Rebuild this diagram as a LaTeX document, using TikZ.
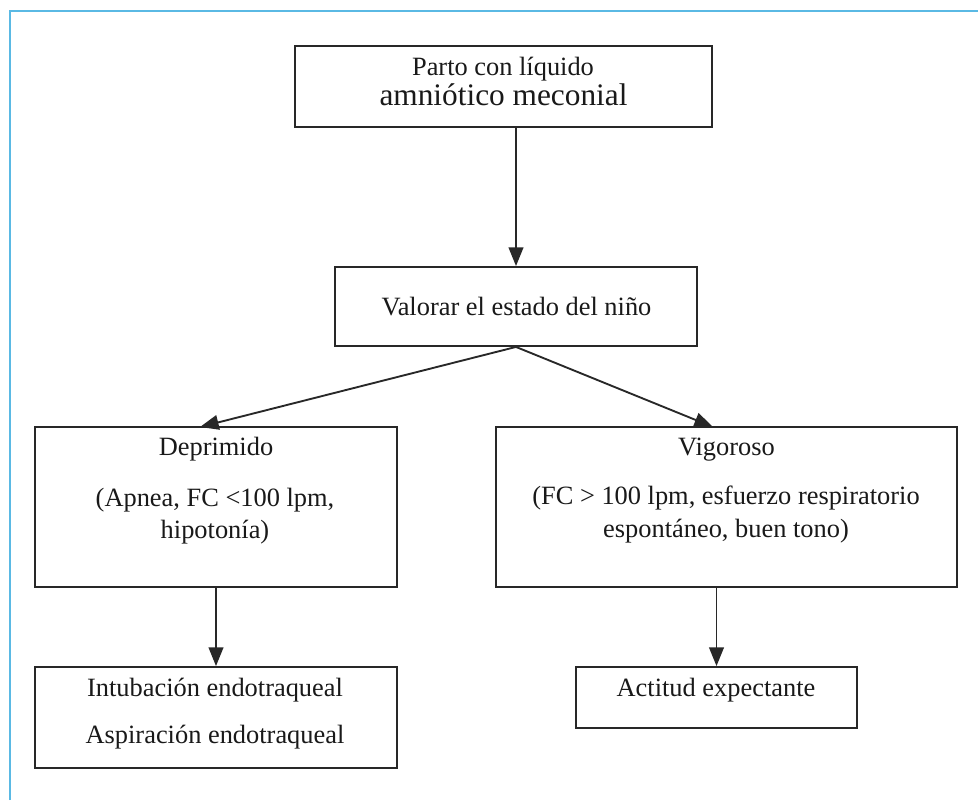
\documentclass[tikz,border=0pt]{standalone}
\usepackage{fontspec}
\setmainfont{Liberation Serif}
\usetikzlibrary{arrows.meta,calc}
\definecolor{framecol}{RGB}{90,185,228}
\definecolor{linecol}{RGB}{40,40,40}
\begin{document}
\begin{tikzpicture}[x=0.75pt,y=-0.75pt,
  box/.style={draw=linecol,line width=1.4pt,rectangle,inner sep=0pt},
  txt/.style={anchor=base,inner sep=0pt,text=black!90,font=\fontsize{19.8}{24}\selectfont},
  arr/.style={draw=linecol,line width=1.4pt,-{Triangle[length=14pt,width=11pt]}}]
\useasboundingbox (0,0) rectangle (978,800);
\fill[white] (0,0) rectangle (978,800);
% frame (top and left edges visible)
\draw[framecol,line width=1.8pt] (10,800) -- (10,11) -- (978,11);
% boxes
\node[box,minimum width=417*0.75pt,minimum height=81*0.75pt] (top) at (503.5,86.5) {};
\node[box,minimum width=362*0.75pt,minimum height=79*0.75pt] (val) at (516,306.5) {};
\node[box,minimum width=362*0.75pt,minimum height=160*0.75pt] (dep) at (216,507) {};
\node[box,minimum width=461*0.75pt,minimum height=160*0.75pt] (vig) at (726.5,507) {};
\node[box,minimum width=362*0.75pt,minimum height=101*0.75pt] (int) at (216,717.5) {};
\node[box,minimum width=281*0.75pt,minimum height=61*0.75pt] (act) at (716.5,697.5) {};
% texts
\node[txt] (t1) at (503,75) {Parto con líquido};
\node[txt,font=\fontsize{23.5}{28}\selectfont] (t2) at (503.5,105) {amniótico meconial};
\node[txt] (t3) at (516.5,315) {Valorar el estado del niño};
\node[txt] (t4) at (216,455) {Deprimido};
\node[txt] (t5) at (215,506) {(Apnea, FC <100 lpm,};
\node[txt] (t6) at (215,538) {hipotonía)};
\node[txt] (t7) at (726.5,455) {Vigoroso};
\node[txt] (t8) at (726,504) {(FC > 100 lpm, esfuerzo respiratorio};
\node[txt] (t9) at (726,537) {espontáneo, buen tono)};
\node[txt] (t10) at (215,696) {Intubación endotraqueal};
\node[txt] (t11) at (215,743) {Aspiración endotraqueal};
\node[txt] (t12) at (716,696) {Actitud expectante};
% connector endpoints
\coordinate (depin) at (200,427);
\coordinate (vigin) at (713,427);
% arrows
\draw[arr] (top.south -| val.north) -- (val.north);
\draw[arr] (val.south) -- (depin);
\draw[arr] (val.south) -- (vigin);
\draw[arr] (dep.south) -- (int.north);
\draw[arr] (vig.south -| act.north) -- (act.north);
\end{tikzpicture}
\end{document}
